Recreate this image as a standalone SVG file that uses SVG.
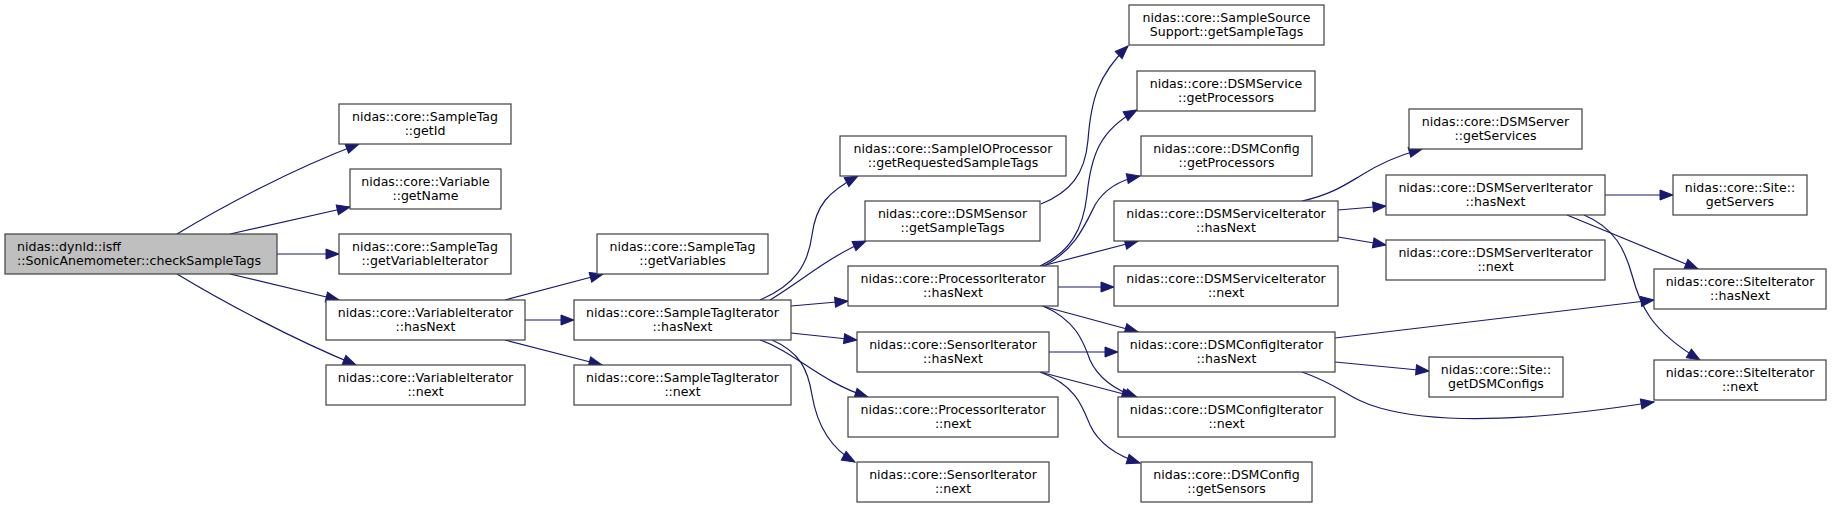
<svg xmlns="http://www.w3.org/2000/svg" width="1832" height="508" viewBox="0 0 1832 508">
<style>
.n rect{fill:#ffffff;stroke:#404040;stroke-width:1.2}
.root rect{fill:#bfbfbf}
text{font-family:"DejaVu Sans","Liberation Sans",sans-serif;font-size:12.55px;fill:#000000;text-anchor:middle}
.l{text-anchor:start}
.e path{fill:none;stroke:#191970;stroke-width:1.2;marker-end:url(#a)}
</style>
<defs>
<marker id="a" markerUnits="userSpaceOnUse" markerWidth="14" markerHeight="10" refX="13" refY="5" orient="auto" viewBox="0 0 14 10" overflow="visible">
<path d="M0,0 L13,5 L0,10 z" fill="#191970" stroke="#191970" stroke-width="1"/>
</marker>
</defs>
<rect width="1832" height="508" fill="#ffffff"/>
<g class="e" id="edges">
<path d="M177,234 C220,208 290,170 359,144"/>
<path d="M230,234 L350,207"/>
<path d="M277,254 L339,254"/>
<path d="M230,274 L339,300"/>
<path d="M177,274 C220,300 290,338 356,365"/>
<path d="M505,300 L603,274"/>
<path d="M525,320 L574,320"/>
<path d="M505,340 L602,365"/>
<path d="M760,300 C795,285 808,265 812,235 C816,205 828,192 858,176"/>
<path d="M770,300 C800,282 830,256 866,241"/>
<path d="M791,306 L848,301"/>
<path d="M791,333 L857,340"/>
<path d="M760,340 C795,352 820,382 868,397"/>
<path d="M772,340 C800,352 808,370 812,395 C817,425 830,448 855,462"/>
<path d="M1041,204 C1070,192 1085,175 1088,140 C1091,100 1098,75 1128,46"/>
<path d="M1040,266 C1070,252 1083,230 1087,195 C1091,155 1100,130 1137,110"/>
<path d="M1044,266 C1075,250 1085,225 1095,205 C1105,188 1120,180 1140,176"/>
<path d="M1042,266 L1138,241"/>
<path d="M1058,287 L1114,287"/>
<path d="M1042,306 L1138,332"/>
<path d="M1043,306 C1075,320 1083,340 1090,360 C1098,378 1115,390 1138,398"/>
<path d="M1049,352 L1118,352"/>
<path d="M1040,372 L1135,397"/>
<path d="M1040,372 C1075,385 1082,405 1090,425 C1098,442 1115,455 1140,463"/>
<path d="M1302,201 C1330,195 1345,185 1360,176 C1380,163 1400,155 1422,149"/>
<path d="M1338,210 L1386,206"/>
<path d="M1338,237 L1386,245"/>
<path d="M1605,195 L1673,195"/>
<path d="M1567,215 L1698,269"/>
<path d="M1584,215 C1615,228 1625,250 1632,275 C1640,305 1650,330 1700,360"/>
<path d="M1335,338 L1654,300"/>
<path d="M1335,362 L1429,371"/>
<path d="M1302,372 C1340,385 1350,400 1380,408 C1440,425 1540,420 1654,402"/>
</g>
<g class="n root" id="n_root"><rect x="5" y="234" width="272" height="40"/><text class="l" x="17" y="250.5">nidas::dynld::isff</text><text class="l" x="17" y="265">::SonicAnemometer::checkSampleTags</text></g>
<g class="n" id="n_getId"><rect x="339" y="104" width="172" height="40"/><text x="425" y="120.5">nidas::core::SampleTag</text><text x="425" y="135">::getId</text></g>
<g class="n" id="n_getName"><rect x="350" y="169" width="151" height="40"/><text x="425.5" y="185.5">nidas::core::Variable</text><text x="425.5" y="200">::getName</text></g>
<g class="n" id="n_getVariableIterator"><rect x="339" y="234" width="172" height="40"/><text x="425" y="250.5">nidas::core::SampleTag</text><text x="425" y="265">::getVariableIterator</text></g>
<g class="n" id="n_varIterHasNext"><rect x="326" y="300" width="199" height="40"/><text x="425.5" y="316.5">nidas::core::VariableIterator</text><text x="425.5" y="331">::hasNext</text></g>
<g class="n" id="n_varIterNext"><rect x="326" y="365" width="199" height="40"/><text x="425.5" y="381.5">nidas::core::VariableIterator</text><text x="425.5" y="396">::next</text></g>
<g class="n" id="n_getVariables"><rect x="597" y="234" width="171" height="40"/><text x="682.5" y="250.5">nidas::core::SampleTag</text><text x="682.5" y="265">::getVariables</text></g>
<g class="n" id="n_stIterHasNext"><rect x="574" y="300" width="217" height="40"/><text x="682.5" y="316.5">nidas::core::SampleTagIterator</text><text x="682.5" y="331">::hasNext</text></g>
<g class="n" id="n_stIterNext"><rect x="574" y="365" width="217" height="40"/><text x="682.5" y="381.5">nidas::core::SampleTagIterator</text><text x="682.5" y="396">::next</text></g>
<g class="n" id="n_getRequestedSampleTags"><rect x="840" y="136" width="226" height="40"/><text x="953" y="152.5">nidas::core::SampleIOProcessor</text><text x="953" y="167">::getRequestedSampleTags</text></g>
<g class="n" id="n_dsmSensorGetSampleTags"><rect x="865" y="201" width="175" height="40"/><text x="952.5" y="217.5">nidas::core::DSMSensor</text><text x="952.5" y="232">::getSampleTags</text></g>
<g class="n" id="n_procIterHasNext"><rect x="848" y="266" width="210" height="40"/><text x="953" y="282.5">nidas::core::ProcessorIterator</text><text x="953" y="297">::hasNext</text></g>
<g class="n" id="n_sensorIterHasNext"><rect x="857" y="332" width="192" height="40"/><text x="953" y="348.5">nidas::core::SensorIterator</text><text x="953" y="363">::hasNext</text></g>
<g class="n" id="n_procIterNext"><rect x="848" y="397" width="210" height="40"/><text x="953" y="413.5">nidas::core::ProcessorIterator</text><text x="953" y="428">::next</text></g>
<g class="n" id="n_sensorIterNext"><rect x="857" y="462" width="192" height="40"/><text x="953" y="478.5">nidas::core::SensorIterator</text><text x="953" y="493">::next</text></g>
<g class="n" id="n_sampleSourceSupport"><rect x="1129" y="5" width="195" height="40"/><text x="1226.5" y="21.5">nidas::core::SampleSource</text><text x="1226.5" y="36">Support::getSampleTags</text></g>
<g class="n" id="n_dsmServiceGetProcessors"><rect x="1137" y="71" width="178" height="40"/><text x="1226" y="87.5">nidas::core::DSMService</text><text x="1226" y="102">::getProcessors</text></g>
<g class="n" id="n_dsmConfigGetProcessors"><rect x="1141" y="136" width="171" height="40"/><text x="1226.5" y="152.5">nidas::core::DSMConfig</text><text x="1226.5" y="167">::getProcessors</text></g>
<g class="n" id="n_dsmServiceIterHasNext"><rect x="1114" y="201" width="224" height="40"/><text x="1226" y="217.5">nidas::core::DSMServiceIterator</text><text x="1226" y="232">::hasNext</text></g>
<g class="n" id="n_dsmServiceIterNext"><rect x="1114" y="266" width="224" height="40"/><text x="1226" y="282.5">nidas::core::DSMServiceIterator</text><text x="1226" y="297">::next</text></g>
<g class="n" id="n_dsmConfigIterHasNext"><rect x="1118" y="332" width="217" height="40"/><text x="1226.5" y="348.5">nidas::core::DSMConfigIterator</text><text x="1226.5" y="363">::hasNext</text></g>
<g class="n" id="n_dsmConfigIterNext"><rect x="1118" y="397" width="217" height="40"/><text x="1226.5" y="413.5">nidas::core::DSMConfigIterator</text><text x="1226.5" y="428">::next</text></g>
<g class="n" id="n_dsmConfigGetSensors"><rect x="1141" y="462" width="171" height="40"/><text x="1226.5" y="478.5">nidas::core::DSMConfig</text><text x="1226.5" y="493">::getSensors</text></g>
<g class="n" id="n_dsmServerGetServices"><rect x="1409" y="109" width="173" height="40"/><text x="1495.5" y="125.5">nidas::core::DSMServer</text><text x="1495.5" y="140">::getServices</text></g>
<g class="n" id="n_dsmServerIterHasNext"><rect x="1386" y="175" width="219" height="40"/><text x="1495.5" y="191.5">nidas::core::DSMServerIterator</text><text x="1495.5" y="206">::hasNext</text></g>
<g class="n" id="n_dsmServerIterNext"><rect x="1386" y="240" width="219" height="40"/><text x="1495.5" y="256.5">nidas::core::DSMServerIterator</text><text x="1495.5" y="271">::next</text></g>
<g class="n" id="n_siteGetDSMConfigs"><rect x="1429" y="357" width="134" height="40"/><text x="1496" y="373.5">nidas::core::Site::</text><text x="1496" y="388">getDSMConfigs</text></g>
<g class="n" id="n_siteGetServers"><rect x="1673" y="175" width="134" height="40"/><text x="1740" y="191.5">nidas::core::Site::</text><text x="1740" y="206">getServers</text></g>
<g class="n" id="n_siteIterHasNext"><rect x="1654" y="269" width="172" height="40"/><text x="1740" y="285.5">nidas::core::SiteIterator</text><text x="1740" y="300">::hasNext</text></g>
<g class="n" id="n_siteIterNext"><rect x="1654" y="360" width="172" height="40"/><text x="1740" y="376.5">nidas::core::SiteIterator</text><text x="1740" y="391">::next</text></g>
</svg>
